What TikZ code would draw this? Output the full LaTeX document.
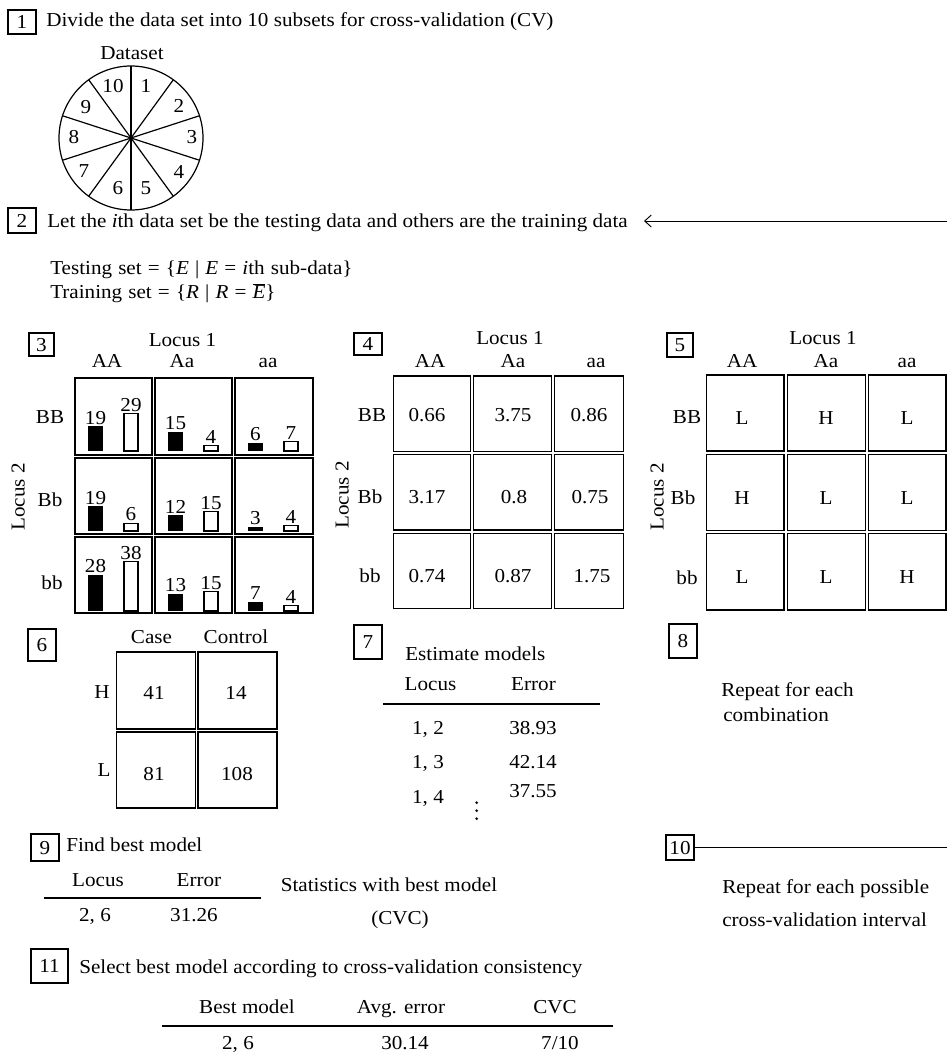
\documentclass[tikz,border=0pt]{standalone}
\usepackage{fontspec}
\setmainfont{Liberation Serif}[FakeStretch=1.07]
\usetikzlibrary{arrows.meta,calc}
\newcommand\fsz{\fontsize{14.8pt}{17pt}\selectfont}
\begin{document}
\begin{tikzpicture}[x=0.75pt,y=-0.75pt,
  every node/.style={font=\fsz, inner sep=0pt, text height=10pt, text depth=0pt},
  numbox/.style={draw, line width=0.8pt},
  bx/.style 2 args={minimum width=#1*0.75pt, minimum height=#2*0.75pt},
  cellbox/.style={draw, line width=0.95pt},
  pie/.style={line width=0.9pt},
  rule/.style={line width=0.9pt},
  wbar/.style={draw, fill=white, line width=0.8pt},
  lft/.style={anchor=west}]
\useasboundingbox (0,0) rectangle (947,1057);

% ---------- step 1
\node[numbox,bx={28}{24}] (b1) at (22,22) {1};
\node[lft] (t1) at (46,20) {Divide the data set into 10 subsets for cross-validation (CV)};
\node (ds) at (132,53) {Dataset};
\coordinate (pc) at (131,138);
\draw[pie] (pc) circle [radius=54pt];
\foreach \a in {90,54,18,-18,-54}
  \draw[pie] ($(pc)+(\a:54pt)$) -- ($(pc)+(\a+180:54pt)$);
\node (p1) at (146,86) {1};
\node (p2) at (179,106) {2};
\node (p3) at (192,137) {3};
\node (p4) at (179,172) {4};
\node (p5) at (146,188) {5};
\node (p6) at (118,188) {6};
\node (p7) at (84,171) {7};
\node (p8) at (74,137) {8};
\node (p9) at (86,107) {9};
\node (p10) at (113,86) {10};

% ---------- step 2
\node[numbox,bx={28}{25}] (b2) at (22,220.5) {2};
\node[lft] (t2) at (47,221) {Let the \textit{i}th data set be the testing data and others are the training data};
\coordinate (e2) at (947,221);
\draw[line width=0.7pt,-{Straight Barb[length=5pt,width=9pt]},shorten >=12pt] (e2) -- (t2);
\node[lft] (ts) at (50,268) {\spaceskip=4.6pt\relax Testing set = \{\textit{E} | \textit{E} = \textit{i}th sub-data\}};
\node[lft] (tr) at (50,292) {\spaceskip=4.6pt\relax Training set = \{\textit{R} | \textit{R} = $\overline{\hbox{\textit{E}}}$\}};

% ---------- step 3
\node[numbox,bx={25}{23}] (b3) at (41.5,344.5) {3};
\node (s3l1) at (182.5,340) {Locus 1};
\node (s3AA) at (107,361) {AA};
\node (s3Aa) at (182,361) {Aa};
\node (s3aa) at (268,361) {aa};
\node (s3BB) at (50,417) {BB};
\node (s3Bb) at (50,500) {Bb};
\node (s3bb) at (52,583) {bb};
\node[rotate=90] (s3l2) at (18,497) {Locus 2};
\foreach \xa/\xb in {75/152,155/232,235/313}
  \foreach \ya/\yb in {378/455,458/534,537/613}
    \draw[cellbox] (\xa,\ya) rectangle (\xb,\yb);
\foreach \cx/\by/\k/\w [count=\i] in {75/451/19/29,155/451/15/4,235/451/6/7,
    75/531/19/6,155/531/12/15,235/531/3/4,
    75/611/28/38,155/611/13/15,235/611/7/4} {
  \fill ({\cx+13},\by) rectangle ++(15,{-1.3*\k});
  \draw[wbar] ({\cx+49},\by) rectangle ++(14,{-1.3*\w});
  \node[anchor=south] (k\i) at ({\cx+20.5},{\by-1.3*\k-2}) {\k};
  \node[anchor=south] (w\i) at ({\cx+56},{\by-1.3*\w-2}) {\w};
}

% ---------- step 4
\node[numbox,bx={28}{22}] (b4) at (368,344) {4};
\node (s4l1) at (510,338) {Locus 1};
\node (s4AA) at (430,361) {AA};
\node (s4Aa) at (513,361) {Aa};
\node (s4aa) at (596,361) {aa};
\node (s4BB) at (372,415) {BB};
\node (s4Bb) at (370,497) {Bb};
\node (s4bb) at (370,576) {bb};
\node[rotate=90] (s4l2) at (342,495) {Locus 2};
\foreach \xa/\xb in {393.3/470.7,473.7/551.7,554.3/623.7}
  \foreach \ya/\yb in {376/451.7,454.3/530,533.3/608.3}
    \draw[cellbox] (\xa,\ya) rectangle (\xb,\yb);
\node (v411) at (427,415) {0.66};
\node (v412) at (513,415) {3.75};
\node (v413) at (589,415) {0.86};
\node (v421) at (427,497) {3.17};
\node (v422) at (514,497) {0.8};
\node (v423) at (590,497) {0.75};
\node (v431) at (427,576) {0.74};
\node (v432) at (513,576) {0.87};
\node (v433) at (592,576) {1.75};

% ---------- step 5
\node[numbox,bx={26}{24}] (b5) at (680,345) {5};
\node (s5l1) at (823,338) {Locus 1};
\node (s5AA) at (742,361) {AA};
\node (s5Aa) at (826,361) {Aa};
\node (s5aa) at (907,361) {aa};
\node (s5BB) at (687,417) {BB};
\node (s5Bb) at (683,498) {Bb};
\node (s5bb) at (687,578) {bb};
\node[rotate=90] (s5l2) at (657,497) {Locus 2};
\foreach \xa/\xb in {706.7/784,787.3/865.3,868.7/946}
  \foreach \ya/\yb in {375/451,454.3/530.3,533.7/610}
    \draw[cellbox] (\xa,\ya) rectangle (\xb,\yb);
\node (v511) at (742,418) {L};
\node (v512) at (826,418) {H};
\node (v513) at (907,418) {L};
\node (v521) at (742,498) {H};
\node (v522) at (826,498) {L};
\node (v523) at (907,498) {L};
\node (v531) at (742,577) {L};
\node (v532) at (826,577) {L};
\node (v533) at (907,577) {H};

% ---------- step 6
\node[numbox,bx={28}{32}] (b6) at (42,645) {6};
\node (case) at (151.5,637) {Case};
\node (ctrl) at (236,637) {Control};
\node (hH) at (102,692) {H};
\node (hL) at (104,770) {L};
\foreach \xa/\xb in {116.7/195.7,198/277}
  \foreach \ya/\yb in {652/729,732/808}
    \draw[cellbox] (\xa,\ya) rectangle (\xb,\yb);
\node (v611) at (154,693) {41};
\node (v612) at (236,693) {14};
\node (v621) at (154,774) {81};
\node (v622) at (237,774) {108};

% ---------- step 7
\node[numbox,bx={28}{34}] (b7) at (368,642) {7};
\node[lft] (est) at (405,654) {Estimate models};
\node (s7loc) at (430.5,684) {Locus};
\node (s7err) at (533.5,684) {Error};
\draw[rule] (383,704) -- (600,704);
\node (r1a) at (428,728) {1, 2};
\node (r1b) at (533,728) {38.93};
\node (r2a) at (428,762) {1, 3};
\node (r2b) at (533,762) {42.14};
\node (r3a) at (428,797) {1, 4};
\node (r3b) at (533,791) {37.55};
\foreach \yy in {802.7,810.7,818.7} \fill (476.7,\yy) circle [radius=1.1pt];

% ---------- step 8
\node[numbox,bx={28}{34}] (b8) at (683,641) {8};
\node[lft] (rep8a) at (721,690) {Repeat for each};
\node[lft] (rep8b) at (723,715) {combination};

% ---------- step 9
\node[numbox,bx={28}{27}] (b9) at (45,847.5) {9};
\node[lft] (find) at (66,845) {Find best model};
\node (s9loc) at (98,880) {Locus};
\node (s9err) at (199,880) {Error};
\draw[rule] (44,898) -- (261,898);
\node (s9a) at (95,915) {2, 6};
\node (s9b) at (194,915) {31.26};
\node (stat) at (389,885) {Statistics with best model};
\node (cvc) at (400,918) {(CVC)};

% ---------- step 10
\node[numbox,bx={28}{25}] (b10) at (680,847.5) {10};
\coordinate (e10) at (947,847.5);
\draw[line width=0.7pt] (b10) -- (e10);
\node[lft] (rep10a) at (722,887) {Repeat for each possible};
\node[lft] (rep10b) at (722,920) {cross-validation interval};

% ---------- step 11
\node[numbox,bx={37}{34}] (b11) at (49.5,966) {11};
\node[lft] (sel) at (79,967) {Select best model according to cross-validation consistency};
\node (bm) at (247,1007) {Best model};
\node (ae) at (401,1007) {Avg. error};
\node (cv) at (555,1007) {CVC};
\draw[rule] (162,1026) -- (613,1026);
\node (bm1) at (238,1043) {2, 6};
\node (ae1) at (405,1043) {30.14};
\node (cv1) at (560,1043) {7/10};
\end{tikzpicture}
\end{document}
